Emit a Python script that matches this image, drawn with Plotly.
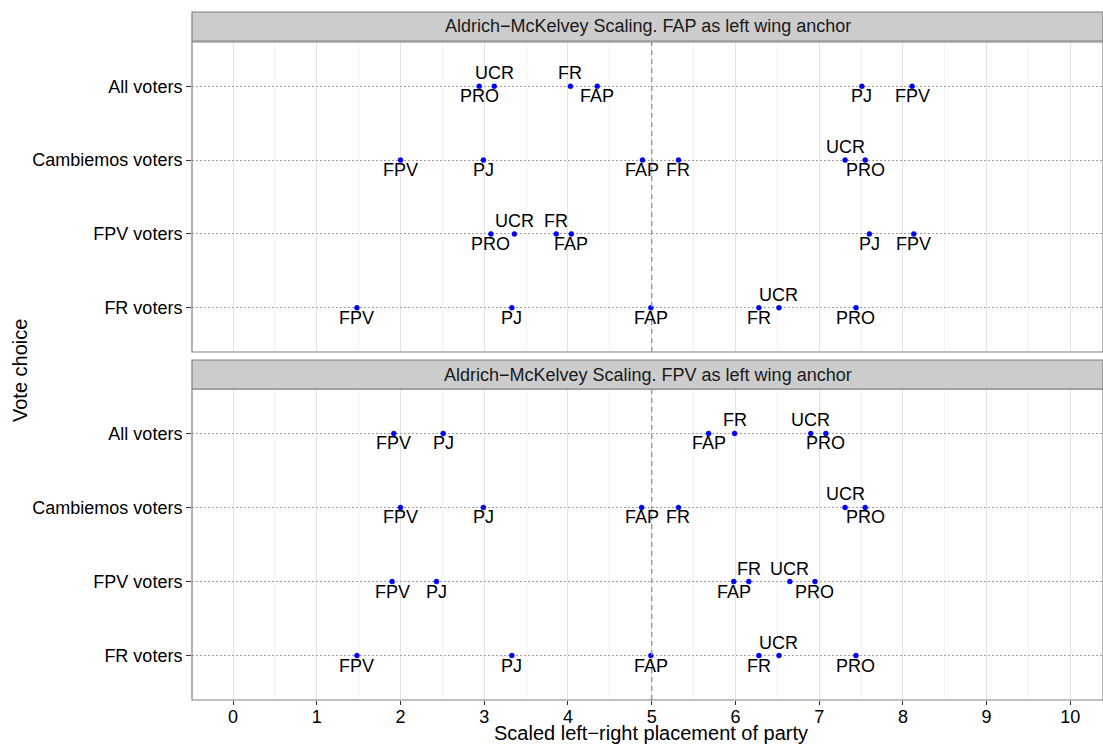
import plotly.graph_objects as go

# ---------------- data ----------------
groups = ["All voters", "Cambiemos voters", "FPV voters", "FR voters"]
parties = ["FPV", "PJ", "FAP", "FR", "UCR", "PRO"]
panel_titles = ["Aldrich\u2212McKelvey Scaling. FAP as left wing anchor",
                "Aldrich\u2212McKelvey Scaling. FPV as left wing anchor"]
x_title = "Scaled left\u2212right placement of party"
y_title = "Vote choice"

# placements (order follows `parties`)
fap_all = [8.11, 7.51, 4.35, 4.03, 3.12, 2.94]
fap_cambiemos = [2.00, 2.99, 4.89, 5.32, 7.31, 7.55]
fap_fpv = [8.13, 7.60, 4.04, 3.86, 3.36, 3.08]
fap_fr = [1.48, 3.33, 4.99, 6.28, 6.52, 7.44]

fpv_all = [1.92, 2.51, 5.68, 5.99, 6.90, 7.08]
fpv_cambiemos = [2.00, 2.99, 4.88, 5.32, 7.31, 7.55]
fpv_fpv = [1.90, 2.43, 5.98, 6.16, 6.65, 6.95]
fpv_fr = [1.48, 3.33, 4.99, 6.28, 6.52, 7.44]

x_ticks = [0, 1, 2, 3, 4, 5, 6, 7, 8, 9, 10]
center_line = 5

panels = [
    [fap_all, fap_cambiemos, fap_fpv, fap_fr],
    [fpv_all, fpv_cambiemos, fpv_fpv, fpv_fr],
]

# label placement (style): which party labels sit above their point
labels_above = [
    [{"FR", "UCR"}, {"UCR"}, {"FR", "UCR"}, {"UCR"}],
    [{"FR", "UCR"}, {"UCR"}, {"FR", "UCR"}, {"UCR"}],
]

# ---------------- figure ----------------
FONT = "Liberation Sans, Arial, Helvetica, sans-serif"
W, H = 1103, 744
ML, MR, MT, MB = 192, 0, 12, 44
ph = H - MT - MB
pw = W - ML - MR


def py(pix):
    return (H - MB - pix) / ph


domains = [[py(352), py(42)], [0.0, py(389)]]
strips = [[py(41), 1.0], [py(389), py(360)]]

fig = go.Figure()
annotations = []
shapes = []

for i, panel in enumerate(panels):
    xa = "x" if i == 0 else "x2"
    ya = "y" if i == 0 else "y2"
    xs, ys = [], []
    for g, vals in zip(groups, panel):
        for p, v in zip(parties, vals):
            xs.append(v)
            ys.append(g)
    fig.add_trace(go.Scatter(
        x=xs, y=ys, mode="markers", xaxis=xa, yaxis=ya,
        marker=dict(size=5, color="#0000FF", line=dict(width=0.5, color="#0000CC")),
        hoverinfo="skip", showlegend=False,
    ))
    for gi, (g, vals) in enumerate(zip(groups, panel)):
        for p, v in zip(parties, vals):
            above = p in labels_above[i][gi]
            annotations.append(dict(
                x=v, y=g, xref=xa, yref=ya, text=p, showarrow=False,
                xanchor="center", yanchor="middle",
                yshift=13 if above else -10,
                font=dict(family=FONT, size=18, color="#000000"),
            ))
    # dashed centre line
    shapes.append(dict(type="line", xref=xa, yref=f"{ya} domain",
                       x0=center_line, x1=center_line, y0=0, y1=1,
                       line=dict(color="#9A9A9A", width=1.5, dash="5px,4px"),
                       layer="above"))
    # panel border
    shapes.append(dict(type="rect", xref="paper", yref="paper",
                       x0=0, x1=1, y0=domains[i][0], y1=domains[i][1],
                       line=dict(color="#7F7F7F", width=1.2), fillcolor="rgba(0,0,0,0)",
                       layer="above"))
    # strip
    shapes.append(dict(type="rect", xref="paper", yref="paper",
                       x0=0, x1=1, y0=strips[i][0], y1=strips[i][1],
                       line=dict(color="#7F7F7F", width=1.2), fillcolor="#CCCCCC"))
    annotations.append(dict(
        x=0.5, y=(strips[i][0] + strips[i][1]) / 2, xref="paper", yref="paper",
        text=panel_titles[i], showarrow=False, xanchor="center", yanchor="middle",
        font=dict(family=FONT, size=18, color="#1A1A1A"),
    ))

# y-axis title
annotations.append(dict(
    x=-(ML - 20) / pw, y=py(371), xref="paper", yref="paper",
    text=y_title, textangle=-90, showarrow=False,
    xanchor="center", yanchor="middle",
    font=dict(family=FONT, size=20, color="#000000"),
))
# x-axis title
annotations.append(dict(
    x=(651 - ML) / pw, y=py(733), xref="paper", yref="paper",
    text=x_title, showarrow=False, xanchor="center", yanchor="middle",
    font=dict(family=FONT, size=20, color="#000000"),
))

xaxis_common = dict(
    range=[-0.49, 10.39], tickvals=x_ticks, ticktext=[str(t) for t in x_ticks],
    showgrid=True, gridcolor="#E3E3E3", gridwidth=1,
    minor=dict(dtick=0.5, tick0=0.5, showgrid=True, gridcolor="#F3F3F3", gridwidth=1),
    zeroline=False, showline=False,
    tickfont=dict(family=FONT, size=18, color="#000000"),
)
yaxis_common = dict(
    type="category", categoryorder="array", categoryarray=groups,
    range=[3.6, -0.6],
    showgrid=True, gridcolor="#A0A0A0", griddash="1.5px,2.5px", gridwidth=1,
    zeroline=False, showline=False,
    ticks="outside", ticklen=5, tickcolor="#333333", tickwidth=1,
    tickfont=dict(family=FONT, size=18, color="#000000"),
)

fig.update_layout(
    width=W, height=H,
    margin=dict(l=ML, r=MR, t=MT, b=MB),
    plot_bgcolor="white", paper_bgcolor="white",
    showlegend=False,
    xaxis=dict(**xaxis_common, domain=[0, 1], anchor="y", showticklabels=False, ticks=""),
    yaxis=dict(**yaxis_common, domain=domains[0], anchor="x"),
    xaxis2=dict(**xaxis_common, domain=[0, 1], anchor="y2", ticks="outside",
                ticklen=4, tickcolor="#333333", ticklabelstandoff=-4),
    yaxis2=dict(**yaxis_common, domain=domains[1], anchor="x2"),
    annotations=annotations,
    shapes=shapes,
)

fig.write_html(
    "out.html",
    config={"displayModeBar": False},
    post_script="document.body.style.margin='0';document.body.style.overflow='hidden';",
)
